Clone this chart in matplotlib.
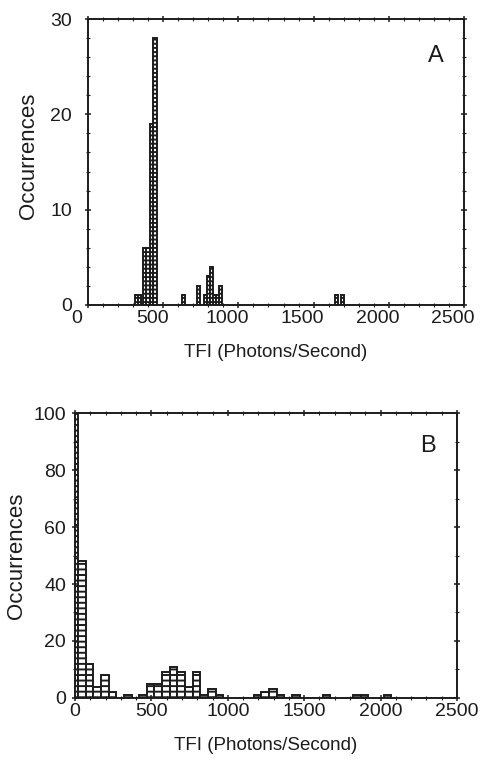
import matplotlib
matplotlib.use("Agg")
import matplotlib.pyplot as plt
import matplotlib.transforms as mtransforms
from matplotlib.ticker import MultipleLocator

# ---------------- data ----------------
# Panel A: TFI bin centres (photons/s) and occurrences
a_centers = [322, 341, 378, 398, 421, 445, 636, 736, 782, 803, 820, 843, 862, 880, 1650, 1690]
a_counts = [1, 1, 6, 6, 19, 28, 1, 2, 1, 3, 4, 1, 1, 2, 1, 1]
a_width = 22

# Panel B: TFI bin centres (photons/s) and occurrences
b_centers = [-5, 45, 95, 145, 195, 245, 345, 445, 495, 545, 595, 645, 695, 745, 795, 845,
             895, 945, 1195, 1245, 1295, 1345, 1445, 1645, 1845, 1895, 2045]
b_counts = [100, 48, 12, 4, 8, 2, 1, 1, 5, 5, 9, 11, 9, 4, 9, 1,
            3, 1, 1, 2, 3, 1, 1, 1, 1, 1, 1]
b_width = 50

x_ticks = [0, 500, 1000, 1500, 2000, 2500]
a_yticks = [0, 10, 20, 30]
b_yticks = [0, 20, 40, 60, 80, 100]
x_label = "TFI (Photons/Second)"
y_label = "Occurrences"

# ---------------- style ----------------
plt.rcParams['font.family'] = ['Liberation Sans', 'DejaVu Sans']
plt.rcParams['hatch.linewidth'] = 1.4
ink = '#1c1c1c'

fig = plt.figure(figsize=(4.82, 7.64), dpi=100)
axA = fig.add_axes([0.1826, 0.6008, 0.7801, 0.3743])
axB = fig.add_axes([0.1556, 0.0864, 0.7925, 0.3730])


def style(ax, ymax, yticks, yminor, letter, lx, ly, ypad, ylab_x, ylab_y):
    ax.set_xlim(0, 2500)
    ax.set_ylim(0, ymax)
    ax.set_xticks(x_ticks)
    ax.set_yticks(yticks)
    ax.xaxis.set_minor_locator(MultipleLocator(100))
    ax.yaxis.set_minor_locator(MultipleLocator(yminor))
    for s in ax.spines.values():
        s.set_linewidth(1.4)
        s.set_color(ink)
    ax.tick_params(which='major', direction='inout', length=5, width=1.1,
                   top=True, right=True, labelsize=14, colors=ink)
    ax.tick_params(which='minor', direction='inout', length=2.5, width=0.8,
                   top=True, right=True, colors=ink)
    ax.tick_params(axis='y', which='major', pad=ypad)
    ax.tick_params(axis='x', which='major', pad=1)
    ax.set_xlabel(x_label, fontsize=13.5, color=ink, labelpad=12)
    ax.set_ylabel(y_label, fontsize=16, color=ink)
    ax.yaxis.set_label_coords(ylab_x, ylab_y)
    ax.text(lx, ly, letter, transform=ax.transAxes, fontsize=17, color=ink,
            ha='center', va='center')


axA.bar(a_centers, a_counts, width=a_width, facecolor='white', edgecolor=ink,
        linewidth=1.4, hatch='----')
axB.bar(b_centers, b_counts, width=b_width, facecolor='white', edgecolor=ink,
        linewidth=1.4, hatch='---')

style(axA, 30, a_yticks, 2, 'A', 0.925, 0.87, 9, -0.13, 0.52)
style(axB, 100, b_yticks, 10, 'B', 0.925, 0.885, 4, -0.125, 0.50)

# panel A tick labels sit slightly left of their ticks in the original
shift = mtransforms.ScaledTranslation(-0.11, 0, fig.dpi_scale_trans)
for lab in axA.get_xticklabels():
    lab.set_transform(lab.get_transform() + shift)

fig.savefig("out.png", dpi=100)
